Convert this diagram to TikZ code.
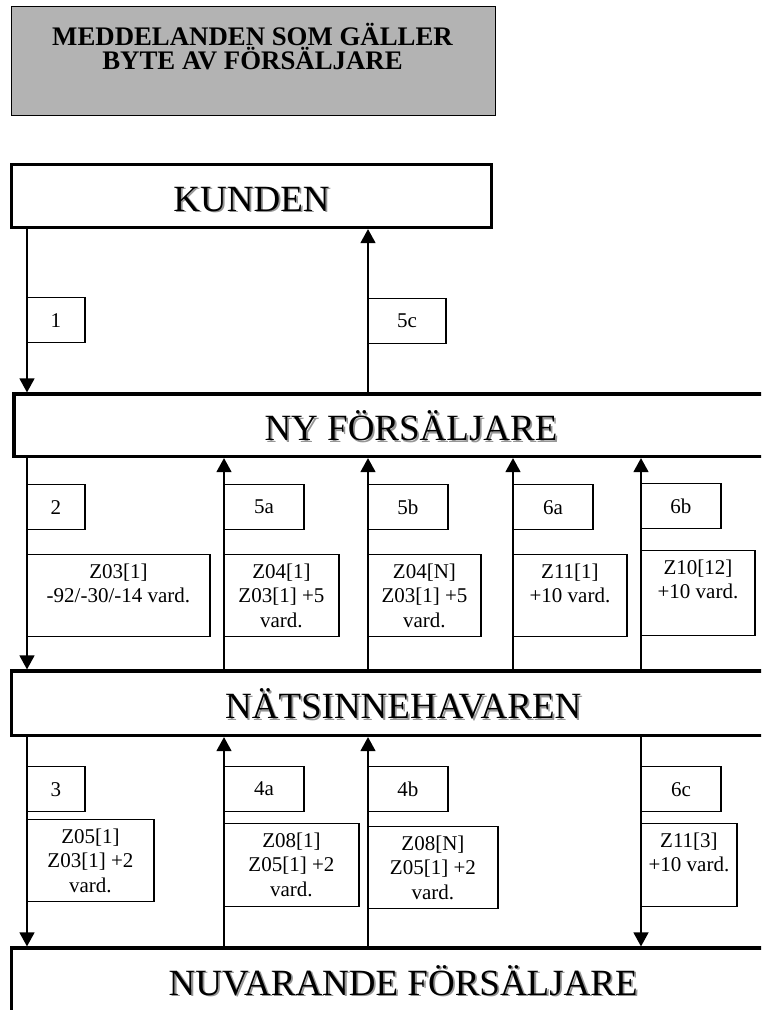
\documentclass[tikz,border=0pt]{standalone}
\usepackage{fontspec}
\setmainfont{Liberation Serif}
\usetikzlibrary{arrows.meta}
\definecolor{titlegray}{RGB}{179,179,179}
\definecolor{shadowgray}{RGB}{150,150,150}
\newcommand\shadowtxt[1]{\makebox[0pt][l]{\hspace{1.8pt}\raisebox{-1.8pt}{\textcolor{shadowgray}{#1}}}#1}
\newcommand\detailtxt[3]{\parbox[c][#2][t]{#1}{\vspace*{9pt}\centering #3\par}}
\begin{document}
\begin{tikzpicture}[x=1pt,y=-1pt,
  mainbox/.style={draw, fill=white, line width=3.2pt, inner sep=0pt,
    font=\fontsize{37}{40}\selectfont, text height=30pt, text depth=0pt},
  numbox/.style={draw, fill=white, line width=1.3pt, inner sep=0pt, anchor=north west,
    minimum height=45pt, font=\fontsize{21}{24}\selectfont},
  detailbox/.style={draw, fill=white, line width=1.3pt, inner sep=0pt, anchor=north west,
    font=\fontsize{21}{24.5}\selectfont},
  link/.style={line width=1.4pt},
  arr/.style={link, -{Triangle[width=15pt,length=14pt]}}]
\useasboundingbox (0,0) rectangle (761,1010);
\clip (0,0) rectangle (761,1010);

% title
\node[draw, fill=titlegray, line width=1.5pt, minimum width=484pt, minimum height=109pt,
  anchor=north west, inner sep=0pt] (titlebox) at (10.5,5.5) {};
\node[font=\fontsize{26.8}{24.5}\selectfont\bfseries, align=center, anchor=north, inner sep=0pt]
  (title) at (252.5,22.5) {MEDDELANDEN SOM GÄLLER\\BYTE AV FÖRSÄLJARE};

% main boxes
\node[mainbox, minimum width=480pt, minimum height=63pt] (kunden) at (251.5,196) {\shadowtxt{KUNDEN}};
\node[mainbox, minimum width=794pt, minimum height=62.5pt] (ny) at (411,425.25) {\shadowtxt{NY FÖRSÄLJARE}};
\node[mainbox, minimum width=783.5pt, minimum height=64.5pt] (nats) at (403.25,703.25) {\shadowtxt{NÄTSINNEHAVAREN}};
\node[mainbox, minimum width=783.5pt, minimum height=64pt] (nuv) at (403.25,980) {\shadowtxt{NUVARANDE FÖRSÄLJARE}};

% columns
\coordinate (c1) at (27,0);
\coordinate (c2) at (224,0);
\coordinate (c3) at (368,0);
\coordinate (c4) at (513,0);
\coordinate (c5) at (641,0);

% connectors
\draw[arr] (kunden.south -| c1) -- (ny.north -| c1);
\draw[arr] (ny.north -| c3) -- (kunden.south -| c3);
\draw[arr] (ny.south -| c1) -- (nats.north -| c1);
\foreach \c in {c2,c3,c4,c5} \draw[arr] (nats.north -| \c) -- (ny.south -| \c);
\draw[arr] (nats.south -| c1) -- (nuv.north -| c1);
\draw[arr] (nuv.north -| c2) -- (nats.south -| c2);
\draw[arr] (nuv.north -| c3) -- (nats.south -| c3);
\draw[arr] (nats.south -| c5) -- (nuv.north -| c5);

% number boxes
\node[numbox, minimum width=58pt] (n1) at (26.3,297) {1};
\node[numbox, minimum width=78pt] (n5c) at (367.3,298) {5c};
\node[numbox, minimum width=58pt] (n2) at (26.3,484) {2};
\node[numbox, minimum width=80pt] (n5a) at (223.3,484) {5a};
\node[numbox, minimum width=80pt] (n5b) at (367.3,484) {5b};
\node[numbox, minimum width=80pt] (n6a) at (512.3,484) {6a};
\node[numbox, minimum width=80pt] (n6b) at (640.3,483) {6b};
\node[numbox, minimum width=58pt] (n3) at (26.3,766) {3};
\node[numbox, minimum width=80pt] (n4a) at (223.3,766) {4a};
\node[numbox, minimum width=80pt] (n4b) at (367.3,766) {4b};
\node[numbox, minimum width=80pt] (n6c) at (640.3,766) {6c};

% detail boxes
\node[detailbox] (d2) at (26.3,554) {\detailtxt{183pt}{82pt}{Z03[1]\\-92/-30/-14 vard.}};
\node[detailbox] (d5a) at (223.3,554) {\detailtxt{115pt}{82pt}{Z04[1]\\Z03[1] +5\\vard.}};
\node[detailbox] (d5b) at (367.3,554) {\detailtxt{113pt}{82pt}{Z04[N]\\Z03[1] +5\\vard.}};
\node[detailbox] (d6a) at (512.3,554) {\detailtxt{114pt}{82pt}{Z11[1]\\+10 vard.}};
\node[detailbox] (d6b) at (640.3,550) {\detailtxt{114pt}{85pt}{Z10[12]\\+10 vard.}};
\node[detailbox] (d3) at (26.3,819) {\detailtxt{127pt}{82pt}{Z05[1]\\Z03[1] +2\\vard.}};
\node[detailbox] (d4a) at (223.3,823) {\detailtxt{135pt}{83pt}{Z08[1]\\Z05[1] +2\\vard.}};
\node[detailbox] (d4b) at (367.3,826) {\detailtxt{130pt}{82pt}{Z08[N]\\Z05[1] +2\\vard.}};
\node[detailbox] (d6c) at (640.3,823) {\detailtxt{96pt}{83pt}{Z11[3]\\+10 vard.}};
\end{tikzpicture}
\end{document}
